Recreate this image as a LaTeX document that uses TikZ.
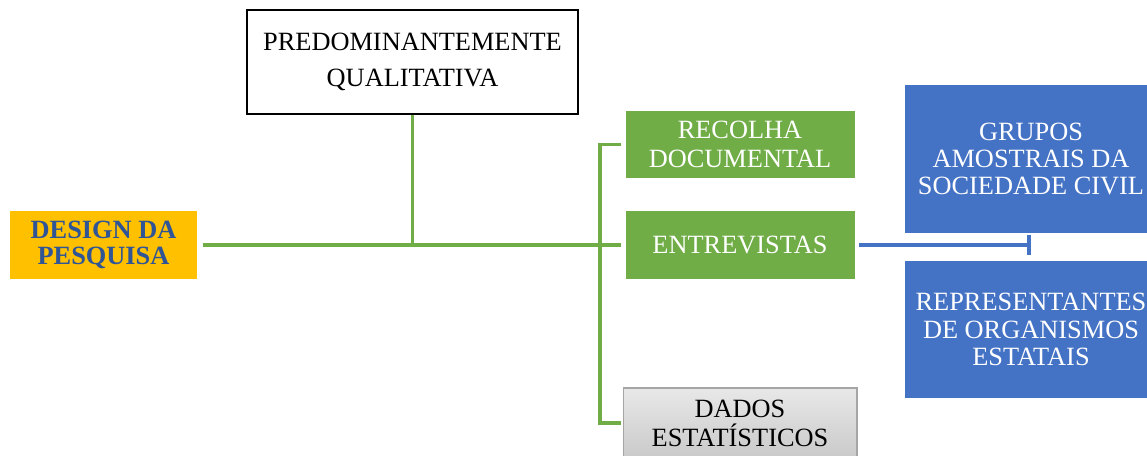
\documentclass[tikz,border=0pt]{standalone}
\usepackage{fontspec}
\setmainfont{Liberation Serif}
\usepackage{tikz}
\usetikzlibrary{arrows.meta,positioning}

\definecolor{designorange}{RGB}{255,192,0}
\definecolor{designblue}{RGB}{47,85,151}
\definecolor{boxgreen}{RGB}{112,173,71}
\definecolor{boxblue}{RGB}{68,114,196}
\definecolor{boxgray}{RGB}{165,165,165}

\begin{document}
\begin{tikzpicture}[x=0.02cm,y=-0.02cm,
    every node/.style={inner sep=0pt,align=center,
      font=\fontsize{15}{16.5}\selectfont},
    designbox/.style={fill=designorange,text=designblue,
      minimum width=3.74cm,minimum height=1.36cm,
      font=\fontsize{15}{15}\selectfont\bfseries},
    topicbox/.style={draw=black,fill=white,line width=1.2pt,
      minimum width=6.62cm,minimum height=2.08cm,
      font=\fontsize{15}{20.5}\selectfont},
    greenbox/.style={fill=boxgreen,draw=white,line width=0.4pt,text=white,
      minimum width=4.6cm,minimum height=1.37cm},
    graybox/.style={top color=gray!18,bottom color=gray!42,draw=boxgray,
      line width=0.6pt,minimum width=4.68cm,minimum height=1.4cm},
    bluebox/.style={fill=boxblue,text=white,minimum width=5.04cm,
      font=\fontsize{15}{15.6}\selectfont},
    greenline/.style={draw=boxgreen,line width=2pt},
    blueline/.style={draw=boxblue,line width=2pt}]
  \useasboundingbox (0,0) rectangle (1147,456);

  \node[designbox] (design) at (103.5,245) {DESIGN DA\\PESQUISA};
  \node[topicbox]  (predom) at (412.5,62)  {PREDOMINANTEMENTE\\QUALITATIVA};
  \node[greenbox]  (recolha) at (740,144.5) {RECOLHA\\DOCUMENTAL};
  \node[greenbox]  (entrev)  at (740,245)   {ENTREVISTAS};
  \node[graybox]   (dados)   at (740,423)   {DADOS\\ESTAT\'ISTICOS};
  \node[bluebox,minimum height=2.96cm] (grupos) at (1031,159)
    {GRUPOS\\AMOSTRAIS DA\\SOCIEDADE CIVIL};
  \node[bluebox,minimum height=2.74cm] (repres) at (1031,329.5)
    {REPRESENTANTES\\DE ORGANISMOS\\ESTATAIS};

  \coordinate (bus) at (600,0);
  \coordinate (split) at (grupos.south |- entrev.east);

  \draw[greenline] ([xshift=3pt]design.east) -- ([xshift=-2pt]entrev.west);
  \draw[greenline] (predom.south) -- (predom.south |- design.east);
  \draw[greenline] ([xshift=-2pt]recolha.west) -- (recolha.west -| bus)
    -- (dados.west -| bus) -- ([xshift=-1pt]dados.west);
  \draw[blueline,-{Bar[width=0.42cm,line width=2pt]}]
    ([xshift=2pt]entrev.east) -- (split);
\end{tikzpicture}
\end{document}
